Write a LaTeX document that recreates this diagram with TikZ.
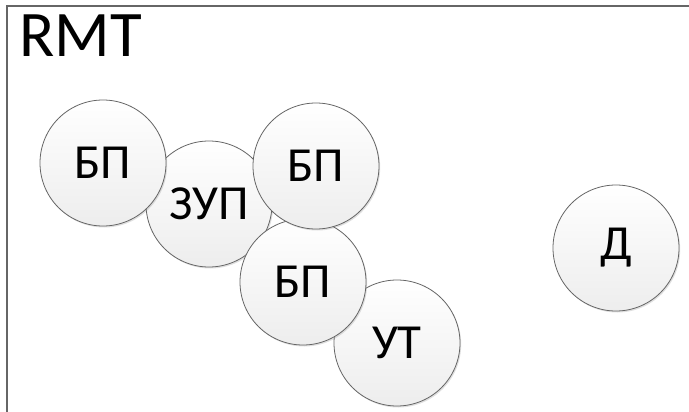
\documentclass[tikz,border=0pt]{standalone}
\usepackage{fontspec}
\setmainfont{Carlito}
\usetikzlibrary{shadows,positioning}

\begin{document}
\begin{tikzpicture}[
    x=1pt, y=-1pt,
    % --- node styles ---
    unit/.style = {circle, draw=black!60, line width=0.8pt,
                   minimum size=126pt, inner sep=0pt,
                   top color=white, bottom color=black!7,
                   drop shadow={shadow xshift=1.2pt, shadow yshift=-1.5pt,
                                opacity=0.25},
                   font=\fontsize{49}{52}\selectfont},
    frame/.style = {draw=black!60, line width=1.3pt},
]
\useasboundingbox (0,0) rectangle (689,412);

%============ FRAME ============
\coordinate (fbl) at (7,412);
\coordinate (ftl) at (7,6);
\coordinate (ftr) at (689,6);
\draw[frame] (fbl) -- (ftl) -- (ftr);

\node (title) [anchor=base west, inner sep=0pt,
               font=\fontsize{65}{68}\selectfont] at (19,57) {RMT};

%============ UNITS ============
% back to front
\node (ut)   [unit] at (397,343) {УТ};
\node (zup)  [unit] at (209,204) {ЗУП};
\node (bp3)  [unit] at (303,282) {БП};
\node (bp1)  [unit] at (103,163) {БП};
\node (bp2)  [unit] at (316,166) {БП};

\node (d)    [unit] at (616,248) {Д};

\end{tikzpicture}
\end{document}
